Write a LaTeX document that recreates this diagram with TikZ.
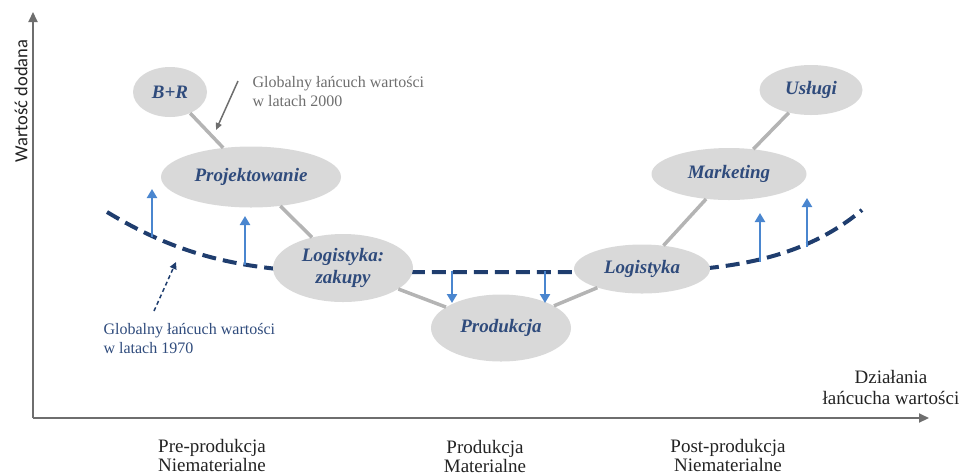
\documentclass[tikz,border=0pt]{standalone}
\usepackage{fontspec}
\setmainfont{Liberation Serif}
\newfontfamily\axisfont{Carlito}
\usetikzlibrary{arrows.meta,shapes.geometric}
\definecolor{ellfill}{HTML}{D9D9D9}
\definecolor{linkgray}{HTML}{B4B4B4}
\definecolor{navy}{HTML}{1F3D6E}
\definecolor{lblue}{HTML}{4A86CF}
\definecolor{txtblue}{HTML}{2F4B7C}
\definecolor{anngray}{HTML}{6E6E6E}
\definecolor{axisgray}{HTML}{6E6E6E}
\definecolor{labtext}{HTML}{222222}
\begin{document}
\begin{tikzpicture}[x=1pt,y=-1pt,
 stage/.style={ellipse, fill=ellfill, inner sep=0pt, font=\fontsize{19}{22}\selectfont\bfseries\itshape, text=txtblue, align=center},
 link/.style={line width=3.5pt, draw=linkgray},
 curve/.style={line width=4pt, draw=navy, dash pattern=on 14pt off 7pt},
 shiftarrow/.style={line width=2.8pt, draw=lblue, -{Triangle[length=9pt,width=10pt]}, color=lblue},
 axisline/.style={line width=2pt, draw=axisgray, -{Triangle[length=10pt,width=9pt]}, color=axisgray},
 note/.style={font=\fontsize{16}{19}\selectfont, align=left, anchor=west},
 stagelab/.style={font=\fontsize{19}{19}\selectfont, text=labtext, align=center}
]
\useasboundingbox (0,0) rectangle (960,475);

% axes
\coordinate (origin) at (33,418);
\coordinate (ytop) at (33,12);
\coordinate (xend) at (929,418);
\draw[axisline] (origin) -- (ytop);
\draw[axisline] (origin) -- (xend);
\node[rotate=90, font=\axisfont\fontsize{18.5}{20}\selectfont, text=labtext] (ylab) at (21,101) {Wartość dodana};
\node[stagelab, font=\fontsize{19}{21}\selectfont] (xlab) at (891,387) {Działania\\łańcucha wartości};

% 1970 curve
\draw[curve] (107,212) .. controls (170,250) and (230,270) .. (330,272) -- (620,272) .. controls (720,272) and (800,262) .. (862,210);

% stages
\node[stage, minimum width=74pt, minimum height=50pt] (br) at (170,92) {B+R};
\node[stage, minimum width=180pt, minimum height=61pt] (proj) at (251,177) {Projektowanie};
\node[stage, minimum width=140pt, minimum height=68pt] (zak) at (343,268) {Logistyka:\\zakupy};
\node[stage, minimum width=140pt, minimum height=67pt] (prod) at (501,328) {Produkcja};
\node[stage, minimum width=136pt, minimum height=49pt] (logr) at (642,269) {Logistyka};
\node[stage, minimum width=155pt, minimum height=52pt] (mark) at (729,174) {Marketing};
\node[stage, minimum width=103pt, minimum height=50pt] (usl) at (811,90) {Usługi};

% 2000 chain links
\draw[link] (br) -- (proj);
\draw[link] (proj) -- (zak);
\draw[link] (zak) -- (prod);
\draw[link] (prod) -- (logr);
\draw[link] (logr) -- (mark);
\draw[link] (mark) -- (usl);

% shift arrows
\coordinate (u1a) at (152,237); \coordinate (u1b) at (152,189);
\coordinate (u2a) at (245,265); \coordinate (u2b) at (245,216);
\coordinate (d1a) at (452,271); \coordinate (d1b) at (452,303);
\coordinate (d2a) at (545,271); \coordinate (d2b) at (545,303);
\coordinate (u3a) at (760,262); \coordinate (u3b) at (760,213);
\coordinate (u4a) at (807,247); \coordinate (u4b) at (807,198);
\draw[shiftarrow] (u1a) -- (u1b);
\draw[shiftarrow] (u2a) -- (u2b);
\draw[shiftarrow] (d1a) -- (d1b);
\draw[shiftarrow] (d2a) -- (d2b);
\draw[shiftarrow] (u3a) -- (u3b);
\draw[shiftarrow] (u4a) -- (u4b);

% annotations
\node[note, text=anngray] (n2000) at (249,92) {Globalny łańcuch wartości\\w latach 2000};
\coordinate (a2000s) at (238,81);
\coordinate (a2000e) at (216,130);
\draw[line width=1.5pt, draw=anngray, color=anngray, -{Triangle[length=7pt,width=6pt]}] (a2000s) -- (a2000e);

\node[note, text=txtblue] (n1970) at (100,339) {Globalny łańcuch wartości\\w latach 1970};
\coordinate (a1970s) at (154,311);
\coordinate (a1970e) at (176,262);
\draw[line width=1.5pt, draw=navy, color=navy, dash pattern=on 4pt off 3pt, -{Triangle[length=7pt,width=7pt]}] (a1970s) -- (a1970e);

% stage labels
\node[stagelab] (pre) at (212,455) {Pre-produkcja\\Niematerialne};
\node[stagelab] (mid) at (485,456) {Produkcja\\Materialne};
\node[stagelab] (post) at (728,455) {Post-produkcja\\Niematerialne};
\end{tikzpicture}
\end{document}
